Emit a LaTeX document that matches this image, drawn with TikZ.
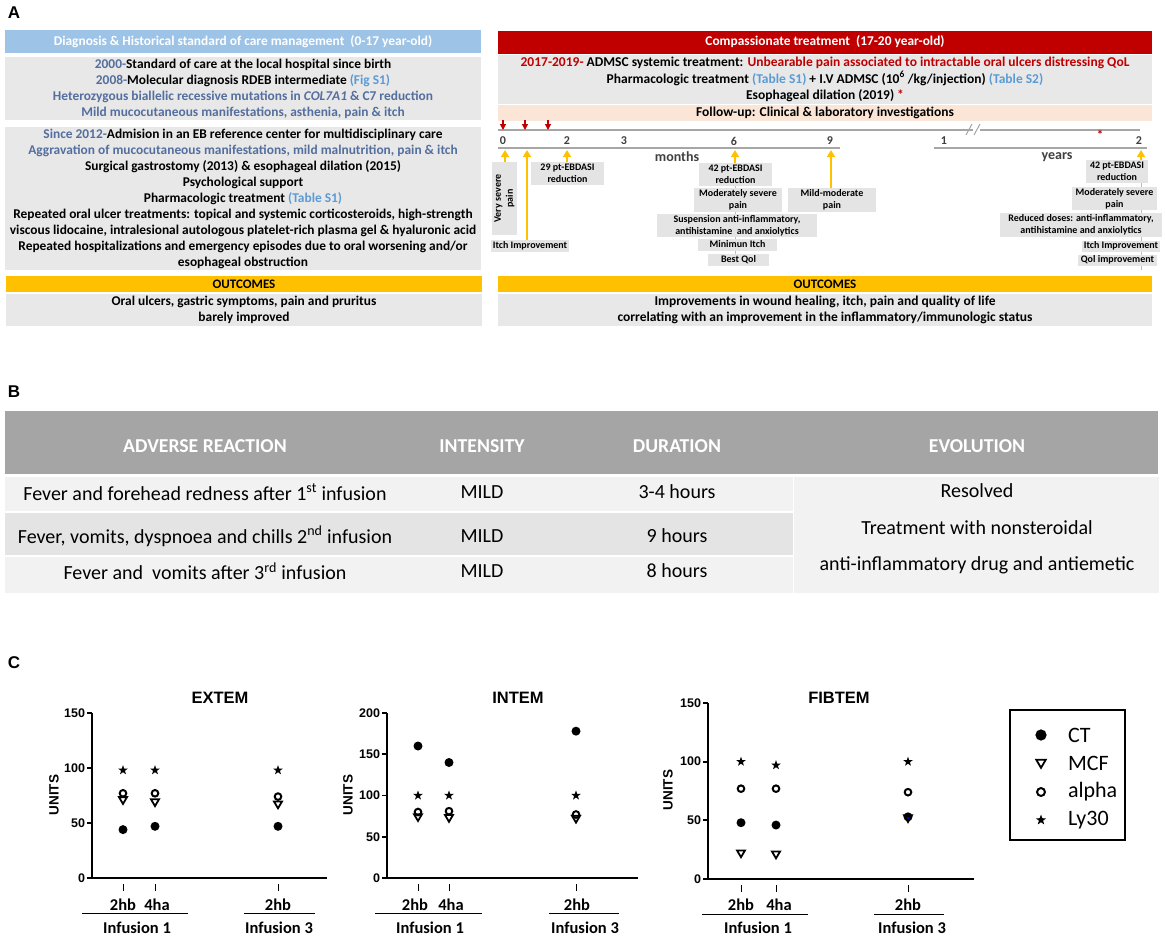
\documentclass[tikz,border=0pt]{standalone}
\usepackage{fontspec}
\setmainfont{Carlito}
\newfontfamily\arialf{Liberation Sans}
\usetikzlibrary{arrows.meta}
\definecolor{hblue}{HTML}{9DC3E6}
\definecolor{boxg}{HTML}{E8E8E8}
\definecolor{tboxg}{HTML}{E4E4E4}
\definecolor{dblue}{RGB}{84,110,158}
\definecolor{lblue}{HTML}{5B9BD5}
\definecolor{dred}{HTML}{C00000}
\definecolor{peach}{HTML}{FBE5D6}
\definecolor{orng}{HTML}{FFC000}
\definecolor{tlg}{HTML}{A6A6A6}
\definecolor{thg}{HTML}{A5A5A5}
\definecolor{rowl}{HTML}{F3F2F3}
\definecolor{rowd}{HTML}{E5E4E5}
\definecolor{numg}{HTML}{404040}
\newcommand\mkCT[2][1]{\fill #2 circle ({4.5*#1});}
\newcommand\mkMCF[2][1]{\draw[line width=1.8,line join=miter] #2 ++({-4*#1},{-2.8*#1}) -- ++({8*#1},0) -- ++({-4*#1},{6.8*#1}) -- cycle;}
\newcommand\mkAL[2][1]{\draw[line width=2] #2 circle ({3.3*#1});}
\newcommand\mkLY[2][1]{\fill #2 +(-90:{5*#1}) -- +(-54:{2*#1}) -- +(-18:{5*#1}) -- +(18:{2*#1}) -- +(54:{5*#1}) -- +(90:{2*#1}) -- +(126:{5*#1}) -- +(162:{2*#1}) -- +(198:{5*#1}) -- +(234:{2*#1}) -- cycle;}
\begin{document}
\begin{tikzpicture}[x=1pt,y=-1pt]
\tikzset{
 every node/.style={inner sep=0pt, outer sep=0pt},
 hdr/.style={text=white, font=\fontsize{13.4}{15}\selectfont\bfseries},
 gbox/.style={fill=boxg, align=center, font=\fontsize{13.4}{16}\selectfont\bfseries},
 rbox/.style={fill=boxg, align=center, font=\fontsize{13.5}{16.5}\selectfont\bfseries},
 obar/.style={fill=orng, font=\fontsize{13}{14}\selectfont\bfseries},
 tbox/.style={fill=tboxg, align=center, font=\fontsize{10}{12}\selectfont\bfseries},
 tnum/.style={text=numg, font=\fontsize{12}{12}\selectfont\bfseries},
 tunit/.style={text=numg, font=\fontsize{14}{14}\selectfont\bfseries},
 tline/.style={draw=tlg, line width=2},
 oarr/.style={draw=orng, line width=1.6, -{Triangle[width=8pt,length=7pt]}},
 rarr/.style={draw=dred, line width=1.2, -{Triangle[width=6pt,length=6pt]}},
 plab/.style={font=\arialf\bfseries\fontsize{17}{17}\selectfont},
 thtxt/.style={text=white, font=\fontsize{19.7}{19}\selectfont\bfseries},
 ttxt/.style={font=\fontsize{20}{20}\selectfont},
 axl/.style={line width=1.8},
 ticklab/.style={anchor=east, font=\arialf\bfseries\fontsize{12.5}{12}\selectfont},
 ptitle/.style={font=\arialf\bfseries\fontsize{16.5}{16}\selectfont},
 ylab/.style={rotate=90, font=\arialf\bfseries\fontsize{13.5}{13}\selectfont},
 catlab/.style={font=\fontsize{16.5}{16}\selectfont\bfseries},
 catline/.style={line width=1},
 legtxt/.style={anchor=west, font=\fontsize{22}{22}\selectfont},
}
\useasboundingbox[fill=white] (0,0) rectangle (1165,938);

% ---------------- Panel A ----------------
\node[plab] (labA) at (14,13) {A};
\node[hdr, fill=hblue, minimum width=476, minimum height=23] (lhdr) at (243,41.5) {Diagnosis \& Historical standard of care management\ \ (0-17 year-old)};
\node[gbox, minimum width=476, minimum height=63] (lb1) at (243,88.5) {%
{\color{dblue}2000-}Standard of care at the local hospital since birth\\
{\color{dblue}2008-}Molecular diagnosis RDEB intermediate {\color{lblue}(Fig S1)}\\
{\color{dblue}Heterozygous biallelic recessive mutations in \textit{COL7A1} \& C7 reduction}\\
{\color{dblue}Mild mucocutaneous manifestations, asthenia, pain \& itch}};
\node[gbox, minimum width=476, minimum height=143] (lb2) at (243,198.5) {%
{\color{dblue}Since 2012-}Admision in an EB reference center for multidisciplinary care\\
{\color{dblue}Aggravation of mucocutaneous manifestations, mild malnutrition, pain \& itch}\\
Surgical gastrostomy (2013) \& esophageal dilation (2015)\\
Psychological support\\
Pharmacologic treatment {\color{lblue}(Table S1)}\\
Repeated oral ulcer treatments: topical and systemic corticosteroids, high-strength\\
viscous lidocaine, intralesional autologous platelet-rich plasma gel \& hyaluronic acid\\
Repeated hospitalizations and emergency episodes due to oral worsening and/or\\
esophageal obstruction};
\node[obar, minimum width=476, minimum height=16] (lout) at (244,284) {OUTCOMES};
\node[gbox, minimum width=476, minimum height=32] (loutb) at (244,310) {Oral ulcers, gastric symptoms, pain and pruritus\\barely improved};

\node[hdr, fill=dred, minimum width=654, minimum height=23] (rhdr) at (825,42) {Compassionate treatment\ \ (17-20 year-old)};
\node[rbox, minimum width=654, minimum height=49] (rb1) at (825,79.5) {%
{\color{dred}2017-2019-} ADMSC systemic treatment: {\color{dred}Unbearable pain associated to intractable oral ulcers distressing QoL}\\
Pharmacologic treatment {\color{lblue}(Table S1)} + I.V ADMSC (10\textsuperscript{6} /kg/injection) {\color{lblue}(Table S2)}\\
Esophageal dilation (2019) {\color{dred}*}};
\node[rbox, fill=peach, minimum width=654, minimum height=16] (fup) at (825,113) {Follow-up: Clinical \& laboratory investigations};

% timeline axes
\coordinate (ta1) at (498,130); \coordinate (ta2) at (973,130);
\coordinate (ta3) at (980,130); \coordinate (ta4) at (1140,130);
\draw[tline] (ta1) -- (ta2); \draw[tline] (ta3) -- (ta4);
\draw[draw=tlg, line width=1] (966,135) -- (972,124) (974,135) -- (980,124);
\coordinate (tb1) at (498,148); \coordinate (tb2) at (840,148);
\coordinate (tb3) at (934,148); \coordinate (tb4) at (1147,148);
\draw[tline] (tb1) -- (tb2); \draw[tline] (tb3) -- (tb4);
\node[tnum] (n0) at (503,141) {0};
\node[tnum] (n2) at (567,141) {2};
\node[tnum] (n3) at (624,141) {3};
\node[tnum] (n6) at (734,141) {6};
\node[tnum] (n9) at (830,141) {9};
\node[tnum] (n1y) at (944,141) {1};
\node[tnum] (n2y) at (1139,141) {2};
\node[tunit] (months) at (677,157) {months};
\node[tunit] (years) at (1057,157) {years};
\node[text=dred, font=\fontsize{13}{13}\selectfont\bfseries] (ast) at (1100,135) {*};
\coordinate (r1a) at (503,120); \coordinate (r1b) at (503,130);
\coordinate (r2a) at (525,120); \coordinate (r2b) at (525,130);
\coordinate (r3a) at (548,120); \coordinate (r3b) at (548,130);
\draw[rarr] (r1a) -- (r1b); \draw[rarr] (r2a) -- (r2b); \draw[rarr] (r3a) -- (r3b);

% thin orange guides behind stacked boxes
\coordinate (g6a) at (735,186); \coordinate (g6b) at (735,254);
\coordinate (g2a) at (1141,183); \coordinate (g2b) at (1141,270);
\draw[orng, line width=1] (g6a) -- (g6b);
\draw[orng, line width=1] (g2a) -- (g2b);

% timeline boxes
\node[tbox, rotate=90, minimum width=73, minimum height=25] (vsp) at (504.5,198.5) {Very severe\\pain};
\node[tbox, minimum width=78, minimum height=12] (itch1) at (530,245.5) {Itch Improvement};
\node[tbox, minimum width=73, minimum height=23] (eb29) at (567.5,173.5) {29 pt-EBDASI\\reduction};
\node[tbox, minimum width=73, minimum height=23] (eb42a) at (735.5,174.5) {42 pt-EBDASI\\reduction};
\node[tbox, minimum width=88, minimum height=24] (msp1) at (738,200) {Moderately severe\\pain};
\node[tbox, minimum width=160, minimum height=23] (susp) at (737,225.5) {Suspension anti-inflammatory,\\antihistamine\ \ and anxiolytics};
\node[tbox, minimum width=79, minimum height=12] (minitch) at (737.5,244.5) {Minimun Itch};
\node[tbox, minimum width=61, minimum height=12] (bestqol) at (738.5,260) {Best Qol};
\node[tbox, minimum width=88, minimum height=24] (mmp) at (832,200) {Mild-moderate\\pain};
\node[tbox, minimum width=62, minimum height=23] (eb42b) at (1117,171.5) {42 pt-EBDASI\\reduction};
\node[tbox, minimum width=85, minimum height=23] (msp2) at (1114.5,198.5) {Moderately severe\\pain};
\node[tbox, minimum width=162, minimum height=24] (reduced) at (1081,225) {Reduced doses: anti-inflammatory,\\antihistamine and anxiolytics};
\node[tbox, minimum width=78, minimum height=11] (itch2) at (1121,246) {Itch Improvement};
\node[tbox, minimum width=79, minimum height=11] (qol2) at (1117.5,260) {Qol improvement};

% orange arrows
\coordinate (a0) at (505,150); \coordinate (a1) at (527,150);
\coordinate (a2) at (567,150); \coordinate (a6) at (735,150);
\coordinate (a9) at (831,150); \coordinate (a2y) at (1141,150);
\draw[oarr] (vsp.east -| a0) -- (a0);
\draw[oarr] (itch1.north -| a1) -- (a1);
\draw[oarr] (eb29.north -| a2) -- (a2);
\draw[oarr] (eb42a.north -| a6) -- (a6);
\draw[oarr] (mmp.north -| a9) -- (a9);
\draw[oarr] (eb42b.north -| a2y) -- (a2y);

\node[obar, minimum width=654, minimum height=16] (rout) at (825,284) {OUTCOMES};
\node[rbox, minimum width=654, minimum height=32] (routb) at (825,310) {Improvements in wound healing, itch, pain and quality of life\\correlating with an improvement in the inflammatory/immunologic status};

% ---------------- Panel B ----------------
\node[plab] (labB) at (14,392) {B};
\node[fill=thg, minimum width=1153, minimum height=63] (thead) at (581.5,442.5) {};
\node[thtxt] (th1) at (205,446) {ADVERSE REACTION};
\node[thtxt] (th2) at (482,446) {INTENSITY};
\node[thtxt] (th3) at (677,446) {DURATION};
\node[thtxt] (th4) at (977,446) {EVOLUTION};
\node[fill=rowl, minimum width=788, minimum height=34] (row1) at (399,494) {};
\node[fill=rowd, minimum width=788, minimum height=42] (row2) at (399,534) {};
\node[fill=rowl, minimum width=788, minimum height=36] (row3) at (399,575) {};
\node[fill=rowl, minimum width=365, minimum height=116] (evo) at (976,535) {};
\node[ttxt] (c11) at (205,492) {Fever and forehead redness after 1\textsuperscript{st} infusion};
\node[ttxt] (c21) at (205,536) {Fever, vomits, dyspnoea and chills 2\textsuperscript{nd} infusion};
\node[ttxt] (c31) at (205,571) {Fever and\ \ vomits after 3\textsuperscript{rd} infusion};
\node[ttxt] (c12) at (482,492) {MILD};
\node[ttxt] (c22) at (482,536) {MILD};
\node[ttxt] (c32) at (482,571) {MILD};
\node[ttxt] (c13) at (677,492) {3-4 hours};
\node[ttxt] (c23) at (677,536) {9 hours};
\node[ttxt] (c33) at (677,571) {8 hours};
\node[ttxt] (e1) at (977,491) {Resolved};
\node[ttxt] (e2) at (977,528) {Treatment with nonsteroidal};
\node[ttxt] (e3) at (977,565) {anti-inflammatory drug and antiemetic};

% ---------------- Panel C ----------------
\node[plab] (labC) at (14,663) {C};
% EXTEM
\node[ptitle] (tex) at (220,698) {EXTEM};
\node[ylab] (uex) at (54,795) {UNITS};
\draw[axl] (92,713) -- (92,878) -- (327,878);
\foreach \v in {0,50,100,150}{
  \draw[axl] (87,{878-1.1*\v}) -- (92,{878-1.1*\v});
  \node[ticklab] (ex\v) at (85,{878-1.1*\v}) {\v};
}
\mkLY{(123,{878-1.1*98})}\mkAL{(123,{878-1.1*77})}\mkMCF{(123,{878-1.1*71})}\mkCT{(123,{878-1.1*44})}
\mkLY{(155,{878-1.1*98})}\mkAL{(155,{878-1.1*77})}\mkMCF{(155,{878-1.1*69})}\mkCT{(155,{878-1.1*47})}
\mkLY{(278,{878-1.1*98})}\mkAL{(278,{878-1.1*74})}\mkMCF{(278,{878-1.1*67})}\mkCT{(278,{878-1.1*47})}
\foreach \x in {123,155,278}{\draw[line width=1] (\x,884) -- (\x,891);}
\node[catlab] (exa) at (123,905) {2hb};
\node[catlab] (exb) at (157,905) {4ha};
\node[catlab] (exc) at (278,905) {2hb};
\draw[catline] (82,913) -- (188,913);
\draw[catline] (244,913) -- (315,913);
\node[catlab] (exi1) at (137,928) {Infusion 1};
\node[catlab] (exi3) at (279,928) {Infusion 3};
% INTEM
\node[ptitle] (tin) at (518,698) {INTEM};
\node[ylab] (uin) at (348,795) {UNITS};
\draw[axl] (387,713) -- (387,878) -- (638,878);
\foreach \v in {0,50,100,150,200}{
  \draw[axl] (382,{878-0.825*\v}) -- (387,{878-0.825*\v});
  \node[ticklab] (in\v) at (380,{878-0.825*\v}) {\v};
}
\mkLY{(418,{878-0.825*100})}\mkAL{(418,{878-0.825*80})}\mkMCF{(418,{878-0.825*74})}\mkCT{(418,{878-0.825*160})}
\mkLY{(449,{878-0.825*100})}\mkAL{(449,{878-0.825*81})}\mkMCF{(449,{878-0.825*73})}\mkCT{(449,{878-0.825*140})}
\mkLY{(576,{878-0.825*100})}\mkAL{(576,{878-0.825*77})}\mkMCF{(576,{878-0.825*72})}\mkCT{(576,{878-0.825*178})}
\foreach \x in {418,449,576}{\draw[line width=1] (\x,884) -- (\x,891);}
\node[catlab] (ina) at (415,905) {2hb};
\node[catlab] (inb) at (451,905) {4ha};
\node[catlab] (inc) at (577,905) {2hb};
\draw[catline] (375,913) -- (482,913);
\draw[catline] (549,913) -- (619,913);
\node[catlab] (ini1) at (430,928) {Infusion 1};
\node[catlab] (ini3) at (585,928) {Infusion 3};
% FIBTEM
\node[ptitle] (tfi) at (839,698) {FIBTEM};
\node[ylab] (ufi) at (668,790) {UNITS};
\draw[axl] (708,703) -- (708,879) -- (974,879);
\foreach \v in {0,50,100,150}{
  \draw[axl] (703,{879-1.1733*\v}) -- (708,{879-1.1733*\v});
  \node[ticklab] (fi\v) at (701,{879-1.1733*\v}) {\v};
}
\mkLY{(741,{879-1.1733*100})}\mkAL{(741,{879-1.1733*77})}\mkCT{(741,{879-1.1733*48})}\mkMCF{(741,{879-1.1733*22})}
\mkLY{(776,{879-1.1733*97})}\mkAL{(776,{879-1.1733*77})}\mkCT{(776,{879-1.1733*46})}\mkMCF{(776,{879-1.1733*21})}
\mkLY{(908,{879-1.1733*100})}\mkAL{(908,{879-1.1733*74})}\mkMCF{(908,{879-1.1733*52})}\mkCT{(908,{879-1.1733*53})}
\fill[blue] (908,{879-1.1733*52}) circle (1.2);
\foreach \x in {741,776,908}{\draw[line width=1] (\x,885) -- (\x,892);}
\node[catlab] (fia) at (741,905) {2hb};
\node[catlab] (fib) at (779,905) {4ha};
\node[catlab] (fic) at (908,905) {2hb};
\draw[catline] (702,914) -- (808,914);
\draw[catline] (874,914) -- (944,914);
\node[catlab] (fii1) at (758,928) {Infusion 1};
\node[catlab] (fii3) at (912,928) {Infusion 3};
% legend
\node[draw, line width=1.3, minimum width=115, minimum height=130] (leg) at (1067.5,775) {};
\mkCT[1.25]{(1041,735)}
\mkMCF[1.2]{(1041,763)}
\mkAL[1.2]{(1041,792)}
\mkLY[1.1]{(1041,820)}
\node[legtxt] (lg1) at (1068,735) {CT};
\node[legtxt] (lg2) at (1068,763) {MCF};
\node[legtxt] (lg3) at (1068,792) {alpha};
\node[legtxt] (lg4) at (1068,820) {Ly30};
\end{tikzpicture}
\end{document}
